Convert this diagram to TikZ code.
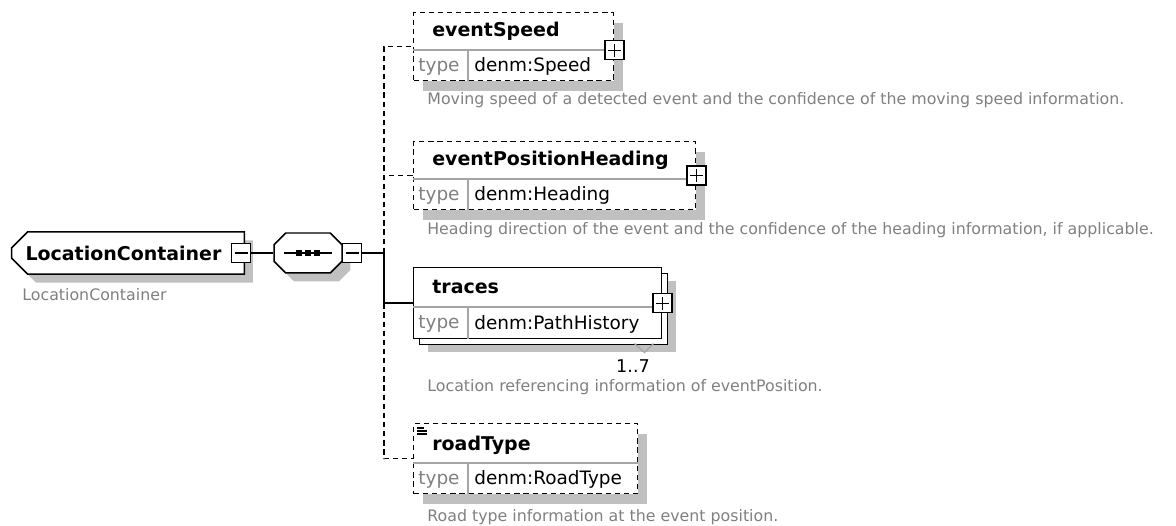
\documentclass[tikz,border=0pt]{standalone}
\usepackage{fontspec}
\setmainfont{DejaVu Sans}
\usetikzlibrary{shapes.misc,shadows}
\definecolor{shade}{RGB}{192,192,192}
\definecolor{note}{RGB}{128,128,128}
\definecolor{rule}{RGB}{165,165,165}
\tikzset{
  wire/.style={line width=0.85pt},
  opt/.style={wire,dash pattern=on 3pt off 2.2pt},
  box/.style={draw,fill=white,line width=0.85pt,anchor=north west,inner sep=0pt},
  elem/.style={box,minimum height=1.36cm,
    drop shadow={shadow xshift=0.18cm,shadow yshift=-0.2cm,fill=shade,opacity=1}},
  optelem/.style={elem,dash pattern=on 3pt off 2.2pt},
  multi/.style={box,minimum height=1.42cm,
    drop shadow={shadow xshift=0.28cm,shadow yshift=-0.26cm,fill=shade,opacity=1},
    copy shadow={shadow xshift=0.12cm,shadow yshift=-0.12cm,line width=0.85pt}},
  group/.style={draw,fill=white,line width=0.85pt,chamfered rectangle,
    chamfered rectangle xsep=0.16cm,chamfered rectangle ysep=0.16cm,
    minimum height=0.8cm,
    drop shadow={shadow xshift=0.17cm,shadow yshift=-0.17cm,fill=shade,opacity=1}},
  title/.style={anchor=west,font=\fontsize{10.8}{13}\selectfont\bfseries,inner sep=0pt},
  tname/.style={anchor=west,font=\fontsize{10.5}{12}\selectfont,text=note,inner sep=0pt},
  tval/.style={anchor=west,font=\fontsize{10.5}{12}\selectfont,inner sep=0pt},
  doc/.style={anchor=west,font=\fontsize{9}{11}\selectfont,text=note,inner sep=0pt},
  sep/.style={draw=rule,line width=0.8pt},
  tog/.style={draw,fill=white,line width=0.85pt,minimum size=0.38cm,inner sep=0pt},
  minus/.style={tog,path picture={
    \draw[line width=0.7pt] ([xshift=0.06cm]path picture bounding box.west) -- ([xshift=-0.06cm]path picture bounding box.east);}},
  plus/.style={tog,path picture={
    \draw[line width=0.7pt] ([xshift=0.06cm]path picture bounding box.west) -- ([xshift=-0.06cm]path picture bounding box.east);
    \draw[line width=0.7pt] ([yshift=-0.06cm]path picture bounding box.north) -- ([yshift=0.06cm]path picture bounding box.south);}},
}
\begin{document}
\begin{tikzpicture}[x=0.02cm,y=-0.02cm]
  \useasboundingbox (0,0) rectangle (1176,526);
  % root element and sequence
  \node[group,chamfered rectangle corners={north west,south west},minimum width=4.58cm,
    text width=4.1cm,align=left,font=\fontsize{10.8}{13}\selectfont\bfseries] (root) at (128,253) {LocationContainer};
  \node[minus] (rootm) at (241,253) {};
  \node[doc] (rootd) at (22,295) {LocationContainer};
  \node[group,minimum width=1.36cm] (seq) at (308,253) {};
  \draw[wire] ([xshift=-0.48cm]seq.center) -- ([xshift=0.48cm]seq.center);
  \foreach \d in {-0.18,0,0.18}
    \fill ([xshift=\d cm-0.06cm,yshift=-0.06cm]seq.center) rectangle ++(0.12cm,0.12cm);
  \node[minus] (seqm) at (352,253) {};
  \coordinate (bus) at (384,253);
  % children
  \node[optelem,minimum width=4cm] (spd) at (413,12) {};
  \draw[sep] ([yshift=-0.76cm]spd.north west) -- ([yshift=-0.76cm]spd.north east);
  \draw[sep] ([xshift=1.1cm,yshift=-0.76cm]spd.north west) -- ([xshift=1.1cm]spd.south west);
  \node[title] (spdt) at ([xshift=0.38cm,yshift=-0.38cm]spd.north west) {eventSpeed};
  \node[tname] (spdk) at ([xshift=0.1cm,yshift=0.3cm]spd.south west) {type};
  \node[tval] (spdv) at ([xshift=1.22cm,yshift=0.3cm]spd.south west) {denm:Speed};
  \node[plus] (spdp) at ([yshift=-0.07cm]spd.east) {};
  \node[doc] (spdd) at (427,100) {Moving speed of a detected event and the confidence of the moving speed information.};

  \node[optelem,minimum width=5.64cm] (hdg) at (413,141) {};
  \draw[sep] ([yshift=-0.76cm]hdg.north west) -- ([yshift=-0.76cm]hdg.north east);
  \draw[sep] ([xshift=1.1cm,yshift=-0.76cm]hdg.north west) -- ([xshift=1.1cm]hdg.south west);
  \node[title] (hdgt) at ([xshift=0.38cm,yshift=-0.38cm]hdg.north west) {eventPositionHeading};
  \node[tname] (hdgk) at ([xshift=0.1cm,yshift=0.3cm]hdg.south west) {type};
  \node[tval] (hdgv) at ([xshift=1.22cm,yshift=0.3cm]hdg.south west) {denm:Heading};
  \node[plus] (hdgp) at (hdg.east) {};
  \node[doc] (hdgd) at (427,230) {Heading direction of the event and the confidence of the heading information, if applicable.};

  \node[multi,minimum width=4.96cm] (trc) at (413,267) {};
  \draw[sep] ([yshift=-0.8cm]trc.north west) -- ([yshift=-0.8cm]trc.north east);
  \draw[sep] ([xshift=1.1cm,yshift=-0.8cm]trc.north west) -- ([xshift=1.1cm]trc.south west);
  \node[title] (trct) at ([xshift=0.38cm,yshift=-0.4cm]trc.north west) {traces};
  \node[tname] (trck) at ([xshift=0.1cm,yshift=0.31cm]trc.south west) {type};
  \node[tval] (trcv) at ([xshift=1.22cm,yshift=0.31cm]trc.south west) {denm:PathHistory};
  \node[plus] (trcp) at (trc.east) {};
  \draw[rule,line width=0.7pt] ([xshift=-0.56cm,yshift=-0.08cm]trc.south east) -- ++(0.2cm,-0.18cm) -- ++(0.18cm,0.18cm);
  \node[tval,anchor=center,font=\fontsize{10}{12}\selectfont] (trcm) at (633,366) {1..7};
  \node[doc] (trcd) at (427,387) {Location referencing information of eventPosition.};

  \node[optelem,minimum width=4.48cm,minimum height=1.4cm] (rdt) at (413,423) {};
  \draw[sep] ([yshift=-0.8cm]rdt.north west) -- ([yshift=-0.8cm]rdt.north east);
  \draw[sep] ([xshift=1.1cm,yshift=-0.8cm]rdt.north west) -- ([xshift=1.1cm]rdt.south west);
  \foreach \d/\w in {0.1/0.14,0.16/0.2,0.22/0.2}
    \draw[line width=0.6pt] ([xshift=0.08cm,yshift=-\d cm]rdt.north west) -- ++(\w cm,0);
  \node[title] (rdtt) at ([xshift=0.38cm,yshift=-0.44cm]rdt.north west) {roadType};
  \node[tname] (rdtk) at ([xshift=0.1cm,yshift=0.3cm]rdt.south west) {type};
  \node[tval] (rdtv) at ([xshift=1.22cm,yshift=0.3cm]rdt.south west) {denm:RoadType};
  \node[doc] (rdtd) at (427,517) {Road type information at the event position.};

  % connectors
  \draw[wire] (rootm.east) -- (seq.west);
  \draw[wire] (seqm.east) -- (bus);
  \draw[opt] (bus) |- (spd.west);
  \draw[opt] (bus) |- (hdg.west);
  \draw[wire] (bus) |- (trc.west);
  \draw[opt] (bus |- trc.west) |- (rdt.west);
\end{tikzpicture}
\end{document}
